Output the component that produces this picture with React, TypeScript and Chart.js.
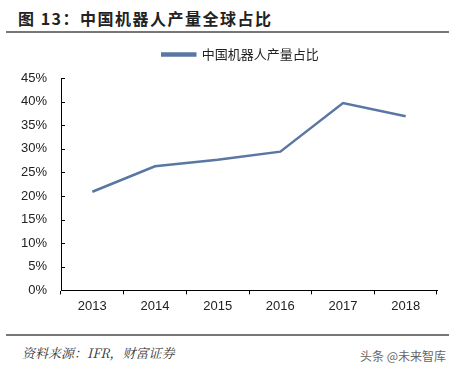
import React, { useEffect, useRef } from "react";
import { Chart, registerables } from "chart.js";

Chart.register(...registerables);

const categories = ["2013", "2014", "2015", "2016", "2017", "2018"];
const shareValues = [20.9, 26.3, 27.7, 29.4, 39.7, 36.9];
const seriesName = "中国机器人产量占比";
const yTicks = [0, 5, 10, 15, 20, 25, 30, 35, 40, 45];

const inwardTicks = {
  id: "inwardTicks",
  afterDatasetsDraw(chart: any) {
    const { ctx, scales } = chart;
    const y = scales.y;
    ctx.save();
    ctx.strokeStyle = "#000";
    ctx.lineWidth = 1;
    ctx.beginPath();
    yTicks.forEach((v) => {
      const py = Math.round(y.getPixelForValue(v)) + 0.5;
      ctx.moveTo(y.right, py);
      ctx.lineTo(y.right + 4, py);
    });
    ctx.stroke();
    ctx.restore();
  },
};

const legendShift = {
  id: "legendShift",
  afterLayout(chart: any) {
    const l = chart.legend;
    if (l) {
      l.left += 22;
      l.right += 22;
    }
  },
};

export default function App() {
  const ref = useRef<HTMLCanvasElement>(null);
  useEffect(() => {
    const chart = new Chart(ref.current!, {
      type: "line",
      data: {
        labels: categories,
        datasets: [
          {
            label: seriesName,
            data: shareValues,
            borderColor: "#5877a3",
            backgroundColor: "#5877a3",
            borderWidth: 2.5,
            pointRadius: 0,
            tension: 0,
          },
        ],
      },
      options: {
        animation: false,
        responsive: false,
        maintainAspectRatio: false,
        layout: { padding: { left: 0, right: 23, top: 0, bottom: 7 } },
        plugins: {
          legend: {
            display: true,
            position: "top",
            labels: {
              boxWidth: 33,
              boxHeight: 2,
              color: "#222",
              font: { family: "'Noto Sans CJK SC', sans-serif", size: 13 },
              padding: 8,
            },
          },
          tooltip: { enabled: false },
        },
        scales: {
          x: {
            offset: true,
            border: { display: true, color: "#000", width: 1 },
            grid: {
              display: true,
              offset: true,
              drawOnChartArea: false,
              drawTicks: true,
              tickLength: 4,
              color: "#000",
            },
            ticks: {
              color: "#222",
              font: { family: "'Liberation Sans', Arial, sans-serif", size: 13 },
              padding: 4,
            },
          },
          xTopSpacer: {
            type: "category",
            position: "top",
            display: true,
            border: { display: false },
            grid: { display: false, drawTicks: false },
            ticks: { display: false },
            afterFit(scale: any) {
              scale.height = 7;
            },
          },
          y: {
            min: 0,
            max: 45,
            afterFit(scale: any) {
              scale.width = 61;
            },
            border: { display: true, color: "#000", width: 1 },
            grid: { display: false },
            ticks: {
              stepSize: 5,
              color: "#222",
              font: { family: "'Liberation Sans', Arial, sans-serif", size: 13 },
              padding: 6,
              callback: (v: any) => v + "%",
            },
          },
        },
      },
      plugins: [inwardTicks, legendShift],
    });
    return () => chart.destroy();
  }, []);

  return (
    <div
      style={{
        position: "absolute",
        left: 0,
        top: 0,
        width: 460,
        height: 372,
        background: "#fff",
        overflow: "hidden",
      }}
    >
      <div
        style={{
          position: "absolute",
          left: 18,
          top: 6,
          fontFamily: "'Noto Sans CJK SC', sans-serif",
          fontWeight: 700,
          fontSize: 16,
          letterSpacing: 1.5,
          color: "#222",
          whiteSpace: "nowrap",
        }}
      >
        图 13：中国机器人产量全球占比
      </div>
      <div
        style={{
          position: "absolute",
          left: 6,
          top: 31,
          width: 443,
          height: 2,
          background: "#777",
        }}
      />
      <canvas
        ref={ref}
        width={460}
        height={285}
        style={{ position: "absolute", left: 0, top: 40, width: 460, height: 285 }}
      />
      <div
        style={{
          position: "absolute",
          left: 6,
          top: 334,
          width: 443,
          height: 2,
          background: "#777",
        }}
      />
      <div
        style={{
          position: "absolute",
          left: 22,
          top: 343,
          fontFamily: "'Noto Serif CJK SC', 'Noto Sans CJK SC', serif",
          fontStyle: "italic",
          fontSize: 13,
          color: "#333",
          whiteSpace: "nowrap",
        }}
      >
        资料来源：IFR，财富证券
      </div>
      <div
        style={{
          position: "absolute",
          left: 360,
          top: 347,
          fontFamily: "'Noto Sans CJK SC', sans-serif",
          fontSize: 12,
          color: "#666",
          whiteSpace: "nowrap",
        }}
      >
        头条 @未来智库
      </div>
    </div>
  );
}
